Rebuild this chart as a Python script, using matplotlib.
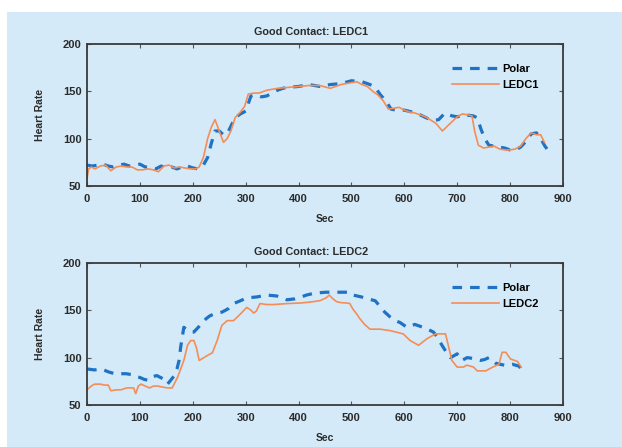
import matplotlib
matplotlib.use('Agg')
import matplotlib.pyplot as plt
from matplotlib.patches import Rectangle

BG = '#d4eaf8'; BLUE = '#1f72c4'; ORANGE = '#f58d55'; INK = '#2b2b2b'
plt.rcParams['font.family'] = ['Liberation Sans', 'DejaVu Sans']
plt.rcParams['font.weight'] = 'bold'

# ---- top panel: LEDC1 ----
t_led1 = [0, 3, 8, 15, 25, 35, 45, 55, 65, 75, 85, 95, 105, 115, 125, 135, 145, 155, 165, 175,
          185, 195, 205, 212, 220, 228, 235, 242, 250, 258, 265, 272, 280, 290, 298, 305, 315, 325,
          340, 360, 380, 400, 420, 440, 460, 480, 500, 510, 520, 530, 540, 550, 560, 570, 580, 590,
          600, 610, 620, 640, 660, 672, 685, 700, 710, 720, 728, 733, 740, 750, 760, 770, 780, 790,
          800, 810, 820, 830, 840, 850, 858, 865]
led1 = [58, 68, 70, 68, 71, 72, 66, 70, 71, 70, 70, 67, 67, 68, 67, 65, 71, 72, 69, 70,
        69, 68, 68, 70, 80, 100, 112, 120, 108, 96, 100, 108, 122, 128, 134, 147, 148, 148,
        151, 153, 154, 155, 156, 156, 153, 157, 159, 160, 157, 155, 150, 146, 140, 131, 132, 133,
        130, 128, 127, 123, 116, 108, 115, 123, 126, 125, 124, 108, 93, 90, 91, 92, 89, 88,
        88, 89, 92, 100, 106, 104, 104, 96]
t_pol1 = [0, 10, 20, 30, 40, 50, 60, 70, 80, 90, 100, 110, 120, 130, 140, 150, 160, 170, 180, 190,
          200, 210, 220, 228, 235, 242, 250, 258, 265, 272, 280, 290, 300, 310, 320, 330, 340, 350,
          360, 370, 380, 400, 420, 440, 460, 480, 500, 520, 535, 545, 555, 565, 575, 585, 600, 615,
          630, 645, 655, 665, 677, 690, 700, 715, 730, 738, 745, 752, 760, 770, 780, 790, 800, 810,
          820, 830, 840, 850, 858, 866, 874, 880]
pol1 = [72, 71, 72, 73, 71, 70, 72, 73, 71, 72, 73, 70, 70, 68, 71, 69, 70, 68, 70, 71,
        69, 68, 72, 80, 95, 108, 108, 104, 105, 113, 122, 126, 129, 145, 146, 144, 145, 148,
        151, 153, 154, 155, 157, 155, 157, 158, 161, 160, 157, 154, 146, 140, 131, 130, 130, 128,
        125, 121, 119, 120, 127, 124, 123, 125, 124, 122, 110, 100, 93, 92, 91, 90, 88, 88,
        91, 97, 105, 106, 100, 92, 86, 87]

# ---- bottom panel: LEDC2 ----
t_led2 = [0, 8, 14, 25, 33, 40, 45, 55, 64, 75, 83, 88, 92, 97, 102, 110, 118, 126, 133, 142,
          152, 161, 171, 183, 190, 196, 202, 207, 212, 221, 230, 237, 246, 255, 265, 277, 290, 302,
          310, 315, 320, 327, 340, 353, 378, 403, 422, 440, 452, 458, 465, 472, 480, 491, 497, 503,
          510, 516, 525, 535, 554, 573, 598, 611, 627, 643, 659, 678, 684, 690, 700, 712, 718, 725,
          731, 738, 754, 766, 779, 785, 792, 801, 814, 821]
led2 = [66, 70, 72, 72, 71, 71, 65, 66, 66, 68, 68, 68, 62, 70, 72, 70, 68, 70, 70, 69,
        68, 68, 79, 97, 113, 118, 118, 110, 97, 100, 103, 105, 118, 134, 139, 139, 146, 153,
        150, 147, 149, 157, 156, 156, 157, 157.6, 158.6, 160, 163, 166, 162, 159, 158, 157.6, 157, 151,
        146, 141, 135, 130, 130, 128.5, 125, 118, 113, 120, 125, 125, 111, 97, 90, 90, 92, 91,
        90, 86, 86, 89.6, 93, 105.6, 105.6, 98.5, 96, 90]
t_pol2 = [0, 14, 27, 40, 52, 63, 74, 85, 92, 100, 108, 116, 124, 132, 139, 146, 152, 158, 165, 170,
          174, 177, 183, 188, 193, 197, 202, 207, 212, 218, 225, 232, 240, 248, 255, 262, 268, 277,
          290, 302, 321, 340, 359, 378, 393, 405, 415, 430, 452, 465, 478, 497, 503, 519, 530, 538,
          545, 554, 563, 573, 583, 592, 605, 620, 630, 640, 655, 662, 668, 678, 687, 694, 700, 709,
          719, 731, 744, 752, 760, 773, 789, 804, 817, 821]
pol2 = [88, 87, 88, 85, 83, 83, 83, 82, 80, 79, 77, 76, 80, 81, 79, 77, 72, 76, 81, 88,
        97, 111, 132, 130, 128, 127, 127, 130, 133, 137, 141, 144, 146, 147, 148, 150, 152, 157,
        160, 163, 164, 166, 165, 161, 162, 164, 166, 168, 169, 169, 169, 169, 166, 164, 162, 161,
        160, 154, 148, 143, 139, 137, 132, 135, 133, 131, 127, 122, 116, 107, 100, 102, 104, 97,
        100, 99, 97, 98, 100, 94, 92, 93, 91, 88]

xticks = [0, 100, 200, 300, 400, 500, 600, 700, 800, 900]
yticks = [50, 100, 150, 200]

fig = plt.figure(figsize=(6.22, 4.47), dpi=100)
fig.patch.set_facecolor('white')
fig.patches.append(Rectangle((0.0113, 0), 1, 0.973, transform=fig.transFigure,
                             fc=BG, ec='none', zorder=-10))

panels = [
    ([0.140, 0.584, 0.765, 0.318], t_pol1, pol1, t_led1, led1, 'LEDC1'),
    ([0.140, 0.094, 0.765, 0.318], t_pol2, pol2, t_led2, led2, 'LEDC2'),
]
for rect, tp, yp, tl, yl, name in panels:
    ax = fig.add_axes(rect)
    ax.set_facecolor(BG)
    ax.plot(tp, yp, color=BLUE, lw=2.3, linestyle=(0, (3.0, 2.5)), label='Polar')
    ax.plot(tl, yl, color=ORANGE, lw=1.2, label=name)
    ax.set_xlim(0, 900); ax.set_ylim(50, 200)
    ax.set_xticks(xticks); ax.set_yticks(yticks)
    ax.tick_params(direction='in', length=3, width=0.8, color='#555555',
                   top=True, right=True, labelsize=8, labelcolor=INK)
    ax.tick_params(axis='y', pad=4)
    ax.tick_params(axis='x', pad=6)
    for s in ax.spines.values():
        s.set_color('#3a3a3a'); s.set_linewidth(1.3)
    ax.set_title('Good Contact: ' + name, fontsize=7.8, fontweight='bold', color=INK, pad=6, x=0.47)
    ax.set_xlabel('Sec', fontsize=7.5, fontweight='bold', color=INK, labelpad=7)
    ax.set_ylabel('Heart Rate', fontsize=7.5, fontweight='bold', color=INK, labelpad=13)
    ax.legend(loc='upper left', bbox_to_anchor=(0.745, 0.93), frameon=False,
              fontsize=8, handlelength=4.3, labelspacing=0.55, handletextpad=0.3)

fig.savefig('out.png', dpi=100)
